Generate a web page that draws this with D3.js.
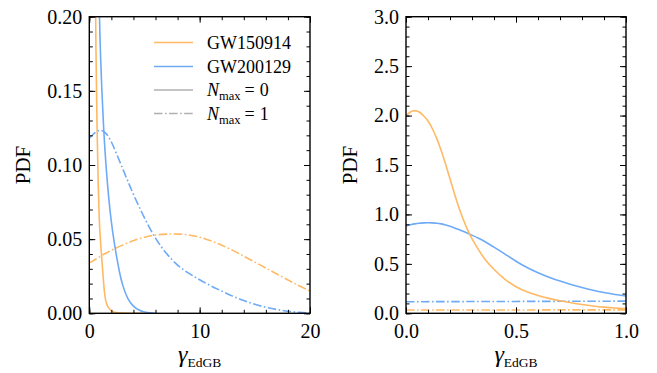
<!DOCTYPE html>
<html>
<head>
<meta charset="utf-8">
<script src="https://cdn.jsdelivr.net/npm/d3@7"></script>
<style>
  body { margin: 0; background: #fff; }
</style>
</head>
<body>
<div id="chart"></div>
<script>
// PDF of gamma_EdGB, two events, N_max = 0 (solid) / N_max = 1 (dash-dot)
var svgWidth = 657;
var svgHeight = 373;
var serif = "Liberation Serif, Tinos, Times New Roman, Times, DejaVu Serif, Noto Serif, serif";

var colors = { GW150914: "#ffb964", GW200129: "#6eaaf6" };

// ---- left panel (wide range 0..20) ----
var wideX150914 = [0, 0.04, 0.1, 0.2, 0.3, 0.4, 0.5, 0.6, 0.7, 0.8, 0.9, 1.0, 1.1, 1.2, 1.3, 1.4, 1.5, 1.6, 1.8, 2.0, 2.2, 2.5, 3.0, 3.5, 5];
var wide150914Nmax0 = [2.0, 2.055, 1.95, 1.36, 0.76, 0.43, 0.255, 0.175, 0.125, 0.088, 0.062, 0.05, 0.04, 0.03, 0.02, 0.012, 0.008, 0.0055, 0.003, 0.0015, 0.0008, 0.0003, 0.0001, 0, 0];

var wideX200129 = [0, 0.1, 0.2, 0.3, 0.4, 0.5, 0.6, 0.7, 0.8, 0.9, 1.0, 1.25, 1.5, 1.75, 2.0, 2.25, 2.5, 2.75, 3.0, 3.5, 4.0, 4.5, 5.0, 5.5, 6.0];
var wide200129Nmax0 = [0.885, 0.916, 0.877, 0.79, 0.67, 0.52, 0.41, 0.325, 0.26, 0.205, 0.175, 0.13, 0.10, 0.078, 0.061, 0.048, 0.037, 0.027, 0.019, 0.009, 0.0045, 0.002, 0.0008, 0.0002, 0];

var wideXNmax1 = [0, 0.5, 1, 1.5, 2, 2.5, 3, 3.5, 4, 5, 6, 7, 8, 9, 10, 11, 12, 13, 14, 15, 16, 17, 18, 19, 20];
var wide150914Nmax1 = [0.034, 0.036, 0.0385, 0.0405, 0.0425, 0.0443, 0.046, 0.0476, 0.049, 0.0515, 0.053, 0.0535, 0.0535, 0.053, 0.0515, 0.049, 0.046, 0.0425, 0.0385, 0.0345, 0.0305, 0.0265, 0.0225, 0.0185, 0.015];
var wide200129Nmax1 = [0.118, 0.122, 0.124, 0.122, 0.116, 0.107, 0.098, 0.089, 0.080, 0.064, 0.050, 0.040, 0.032, 0.027, 0.0225, 0.0185, 0.015, 0.0115, 0.0085, 0.006, 0.004, 0.0025, 0.0013, 0.0006, 0.0002];

// ---- right panel (zoom 0..1) ----
var zoomX = [0, 0.02, 0.04, 0.06, 0.08, 0.10, 0.12, 0.14, 0.16, 0.18, 0.20, 0.22, 0.24, 0.26, 0.28, 0.30, 0.33, 0.36, 0.40, 0.45, 0.50, 0.55, 0.60, 0.65, 0.70, 0.75, 0.80, 0.85, 0.90, 0.95, 1.0];
var zoom150914Nmax0 = [2.0, 2.04, 2.055, 2.04, 2.0, 1.95, 1.87, 1.77, 1.65, 1.51, 1.36, 1.21, 1.07, 0.95, 0.84, 0.75, 0.64, 0.54, 0.44, 0.34, 0.265, 0.215, 0.178, 0.15, 0.127, 0.107, 0.089, 0.074, 0.062, 0.053, 0.046];
var zoom200129Nmax0 = [0.885, 0.895, 0.905, 0.912, 0.915, 0.916, 0.915, 0.912, 0.905, 0.895, 0.88, 0.864, 0.847, 0.829, 0.81, 0.79, 0.76, 0.725, 0.67, 0.60, 0.525, 0.462, 0.41, 0.365, 0.325, 0.29, 0.26, 0.233, 0.21, 0.19, 0.175];
var zoomXNmax1 = [0, 0.5, 1.0];
var zoom150914Nmax1 = [0.034, 0.034, 0.0345];
var zoom200129Nmax1 = [0.117, 0.12, 0.123];

var legendLabels = ["GW150914", "GW200129"];

var panels = [
  {
    id: "wide", left: 89.3, right: 310,
    xDomain: [0, 20], yDomain: [0, 0.2],
    xMajor: [0, 10, 20], xMinor: d3.range(0, 20.01, 2),
    yMajor: [0, 0.05, 0.10, 0.15, 0.20], yMinor: d3.range(0, 0.2001, 0.01),
    xFmt: d3.format("d"), yFmt: d3.format(".2f"),
    series: [
      { x: wideX150914, y: wide150914Nmax0, c: colors.GW150914, dash: false },
      { x: wideX200129, y: wide200129Nmax0, c: colors.GW200129, dash: false },
      { x: wideXNmax1, y: wide150914Nmax1, c: colors.GW150914, dash: true },
      { x: wideXNmax1, y: wide200129Nmax1, c: colors.GW200129, dash: true }
    ],
    ylabelX: 30, legend: true
  },
  {
    id: "zoom", left: 406, right: 626,
    xDomain: [0, 1], yDomain: [0, 3],
    xMajor: [0, 0.5, 1.0], xMinor: d3.range(0, 1.001, 0.1),
    yMajor: [0, 0.5, 1, 1.5, 2, 2.5, 3], yMinor: d3.range(0, 3.001, 0.1),
    xFmt: d3.format(".1f"), yFmt: d3.format(".1f"),
    series: [
      { x: zoomX, y: zoom150914Nmax0, c: colors.GW150914, dash: false },
      { x: zoomX, y: zoom200129Nmax0, c: colors.GW200129, dash: false },
      { x: zoomXNmax1, y: zoom150914Nmax1, c: colors.GW150914, dash: true },
      { x: zoomXNmax1, y: zoom200129Nmax1, c: colors.GW200129, dash: true }
    ],
    ylabelX: 357, legend: false
  }
];

var plotTop = 16.7, plotBottom = 313.3;
var dashPattern = "8.5,2.5,1.6,2.5";

var svg = d3.select("#chart").append("svg")
  .attr("width", svgWidth)
  .attr("height", svgHeight)
  .attr("font-family", serif);

panels.forEach(function(p) {
  var w = p.right - p.left, h = plotBottom - plotTop;
  var x = d3.scaleLinear().domain(p.xDomain).range([0, w]);
  var y = d3.scaleLinear().domain(p.yDomain).range([h, 0]);

  var g = svg.append("g").attr("transform", `translate(${p.left}, ${plotTop})`);

  g.append("clipPath").attr("id", "clip-" + p.id)
    .append("rect").attr("width", w).attr("height", h);

  // b-spline keeps the KDE curves smooth
  var line = d3.line()
    .x(d => x(d[0]))
    .y(d => y(d[1]))
    .curve(d3.curveBasis);

  var lines = g.append("g").attr("clip-path", `url(#clip-${p.id})`);
  // dash-dot first, solid on top
  p.series.slice().reverse().forEach(function(s) {
    var pts = s.x.map((v, i) => [v, s.y[i]]);
    lines.append("path")
      .attr("d", line(pts))
      .attr("fill", "none")
      .attr("stroke", s.c)
      .attr("stroke-width", 1.6)
      .attr("stroke-dasharray", s.dash ? dashPattern : null);
  });

  // ticks, all inward, all four sides
  function axisLayer(axis, tr) {
    var a = g.append("g").attr("transform", tr).call(axis);
    a.select(".domain").remove();
    a.attr("font-family", serif).attr("font-size", 20);
    a.selectAll("line").attr("stroke", "#000").attr("stroke-width", 1);
    a.selectAll("text").attr("font-family", serif).attr("font-size", 20).attr("fill", "#000");
    return a;
  }
  axisLayer(d3.axisBottom(x).tickValues(p.xMajor).tickFormat(p.xFmt).tickSize(-6).tickPadding(11), `translate(0,${h})`);
  axisLayer(d3.axisBottom(x).tickValues(p.xMinor).tickFormat("").tickSize(-3.5), `translate(0,${h})`);
  axisLayer(d3.axisTop(x).tickValues(p.xMajor).tickFormat("").tickSize(-6), "translate(0,0)");
  axisLayer(d3.axisTop(x).tickValues(p.xMinor).tickFormat("").tickSize(-3.5), "translate(0,0)");
  axisLayer(d3.axisLeft(y).tickValues(p.yMajor).tickFormat(p.yFmt).tickSize(-6).tickPadding(7), "translate(0,0)");
  axisLayer(d3.axisLeft(y).tickValues(p.yMinor).tickFormat("").tickSize(-3.5), "translate(0,0)");
  axisLayer(d3.axisRight(y).tickValues(p.yMajor).tickFormat("").tickSize(-6), `translate(${w},0)`);
  axisLayer(d3.axisRight(y).tickValues(p.yMinor).tickFormat("").tickSize(-3.5), `translate(${w},0)`);

  g.append("rect")
    .attr("width", w).attr("height", h)
    .attr("fill", "none").attr("stroke", "#000").attr("stroke-width", 1.4);

  // y label
  svg.append("text")
    .attr("transform", `translate(${p.ylabelX}, ${(plotTop + plotBottom) / 2}) rotate(-90)`)
    .attr("text-anchor", "middle")
    .attr("font-family", serif)
    .attr("font-size", 21)
    .text("PDF");

  // x label: gamma_EdGB
  var xl = svg.append("text")
    .attr("x", p.left + w / 2)
    .attr("y", 362)
    .attr("text-anchor", "middle")
    .attr("font-family", serif);
  xl.append("tspan").attr("font-size", 24).attr("font-style", "italic").text("γ");
  xl.append("tspan").attr("dy", 4.5).attr("font-size", 13.5).text("EdGB");

  if (p.legend) {
    var lg = svg.append("g").attr("transform", "translate(154, 0)");
    var rows = [
      { label: legendLabels[0], c: colors.GW150914, dash: false, yc: 42.5 },
      { label: legendLabels[1], c: colors.GW200129, dash: false, yc: 66.5 },
      { n: "0", c: "#b0b0b0", dash: false, yc: 90 },
      { n: "1", c: "#b0b0b0", dash: true, yc: 113.5 }
    ];
    rows.forEach(function(r) {
      lg.append("line")
        .attr("x1", 0).attr("x2", 39)
        .attr("y1", r.yc).attr("y2", r.yc)
        .attr("stroke", r.c).attr("stroke-width", 1.6)
        .attr("stroke-dasharray", r.dash ? dashPattern : null);
      var t = lg.append("text").attr("x", 53).attr("y", r.yc + 6)
        .attr("font-family", serif).attr("font-size", 18);
      if (r.label) {
        t.text(r.label);
      } else {
        t.append("tspan").attr("font-style", "italic").text("N");
        t.append("tspan").attr("dy", 4).attr("font-size", 12.5).text("max");
        t.append("tspan").attr("dy", -4).attr("dx", 4).text("=");
        t.append("tspan").attr("dx", 5).text(r.n);
      }
    });
  }
});
</script>
</body>
</html>
